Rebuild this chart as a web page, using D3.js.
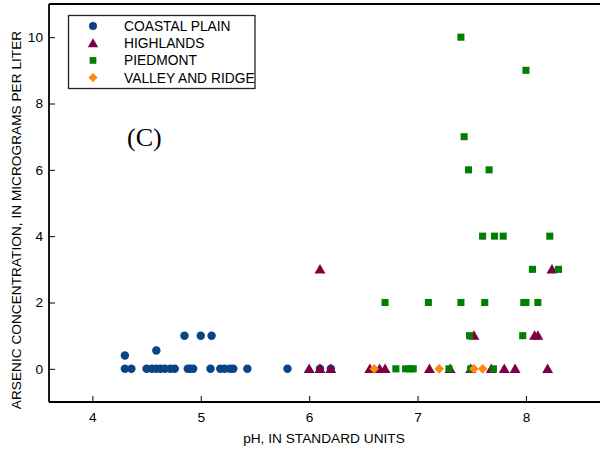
<!DOCTYPE html>
<html>
<head>
<meta charset="utf-8">
<script src="https://cdn.jsdelivr.net/npm/d3@7"></script>
<style>
  html, body { margin: 0; padding: 0; background: #fff; }
  text { font-family: "Liberation Sans", Arial, sans-serif; }
</style>
</head>
<body>
<svg id="chart" width="600" height="450"></svg>
<script>
// ---- Data ----
const coastalPH  = [4.30, 4.36, 4.50, 4.55, 4.59, 4.63, 4.67, 4.72, 4.76, 4.88, 4.90, 4.93, 5.09, 5.18, 5.22, 5.27, 5.30, 5.43, 5.80, 6.10, 6.20, 4.30, 4.59, 4.85, 5.00, 5.10];
const coastalAs  = [0, 0, 0, 0, 0, 0, 0, 0, 0, 0, 0, 0, 0, 0, 0, 0, 0, 0, 0, 0, 0, 0.4, 0.55, 1, 1, 1];

const highlandsPH = [6.00, 6.10, 6.20, 6.56, 6.65, 6.70, 7.11, 7.30, 7.49, 7.68, 7.80, 7.90, 8.20, 7.52, 8.08, 8.11, 6.10, 8.24];
const highlandsAs = [0, 0, 0, 0, 0, 0, 0, 0, 0, 0, 0, 0, 0, 1, 1, 1, 3, 3];

const piedmontPH = [7.40, 8.00, 7.43, 7.47, 7.66, 7.60, 7.71, 7.79, 8.22, 8.06, 8.30, 6.70, 7.10, 7.40, 7.62, 7.98, 8.00, 8.11, 7.48, 7.97, 6.80, 6.89, 6.93, 6.96, 7.29, 7.49, 7.70];
const piedmontAs = [10, 9, 7, 6, 6, 4, 4, 4, 4, 3, 3, 2, 2, 2, 2, 2, 2, 2, 1, 1, 0, 0, 0, 0, 0, 0, 0];

const valleyPH = [6.60, 7.20, 7.52, 7.60];
const valleyAs = [0, 0, 0, 0];

const seriesNames = ["COASTAL PLAIN", "HIGHLANDS", "PIEDMONT", "VALLEY AND RIDGE"];
const xTicks = [4, 5, 6, 7, 8];
const yTicks = [0, 2, 4, 6, 8, 10];

// ---- Layout ----
const svg = d3.select("#chart");
const mLeft = 49, mRight = 604, mTop = 4, mBottom = 402;

const x = d3.scaleLinear().domain([3.6, 8.72]).range([mLeft, mRight]);
const y = d3.scaleLinear().domain([-1, 11]).range([mBottom, mTop]);

const colors = ["#0a4388", "#7c0042", "#008000", "#ff8717"];
const symbols = [d3.symbolCircle, d3.symbolTriangle, d3.symbolSquare, d3.symbolSquare];
const sizes = [56, 52, 50, 46];
const rotations = [0, 0, 0, 45];

const series = [
  { xs: coastalPH, ys: coastalAs },
  { xs: highlandsPH, ys: highlandsAs },
  { xs: piedmontPH, ys: piedmontAs },
  { xs: valleyPH, ys: valleyAs }
];

// Axes
const xAxis = d3.axisBottom(x).tickValues(xTicks).tickSize(-6).tickPadding(10).tickFormat(d3.format("d"));
const yAxis = d3.axisLeft(y).tickValues(yTicks).tickSize(-6).tickPadding(6).tickFormat(d3.format("d"));

const gx = svg.append("g").attr("transform", `translate(0,${mBottom})`).call(xAxis);
const gy = svg.append("g").attr("transform", `translate(${mLeft},0)`).call(yAxis);
[gx, gy].forEach(g => {
  g.select(".domain").attr("stroke", "#000").attr("stroke-width", 1.8);
  g.selectAll(".tick line").attr("stroke", "#000").attr("stroke-width", 1);
  g.selectAll(".tick text").attr("fill", "#000").style("font-size", "13.7px")
    .style("font-family", "'Liberation Sans', Arial, sans-serif");
});
gx.select(".domain").attr("d", `M${mLeft},0H600`);
gy.select(".domain").attr("d", `M0,${mBottom}V${mTop}`);

// Top border
svg.append("line").attr("x1", mLeft).attr("x2", 600).attr("y1", mTop).attr("y2", mTop)
  .attr("stroke", "#000").attr("stroke-width", 2);

// Points
series.forEach((s, i) => {
  const gen = d3.symbol().type(symbols[i]).size(sizes[i]);
  svg.append("g").selectAll("path")
    .data(s.xs.map((v, j) => [v, s.ys[j]]))
    .join("path")
    .attr("d", gen)
    .attr("transform", d => `translate(${x(d[0])},${y(d[1]) + (i === 1 ? 1 : 0)}) rotate(${rotations[i]})`)
    .attr("fill", colors[i]);
});

// Legend
const lg = svg.append("g");
lg.append("rect").attr("x", 68.5).attr("y", 15.5).attr("width", 186.5).attr("height", 73)
  .attr("fill", "#fff").attr("stroke", "#222").attr("stroke-width", 1.3);
seriesNames.forEach((name, i) => {
  const cy = 26 + i * 17.2;
  lg.append("path").attr("d", d3.symbol().type(symbols[i]).size(sizes[i] * 0.9)())
    .attr("transform", `translate(93,${cy + (i === 1 ? 1 : 0)}) rotate(${rotations[i]})`).attr("fill", colors[i]);
  lg.append("text").attr("x", 124).attr("y", cy + 5).text(name)
    .style("font-size", "13.8px").attr("fill", "#000");
});

// Panel label
svg.append("text").attr("x", 127).attr("y", 146).text("(C)")
  .style("font-family", "'Liberation Serif', 'Times New Roman', serif")
  .style("font-size", "26px").attr("fill", "#000");

// Axis titles
svg.append("text").attr("x", 324).attr("y", 443).attr("text-anchor", "middle")
  .text("pH, IN STANDARD UNITS").style("font-size", "13.7px").attr("fill", "#000");
svg.append("text").attr("transform", "translate(21,220) rotate(-90)").attr("text-anchor", "middle")
  .text("ARSENIC CONCENTRATION, IN MICROGRAMS PER LITER").style("font-size", "13.7px").attr("fill", "#000");
</script>
</body>
</html>
